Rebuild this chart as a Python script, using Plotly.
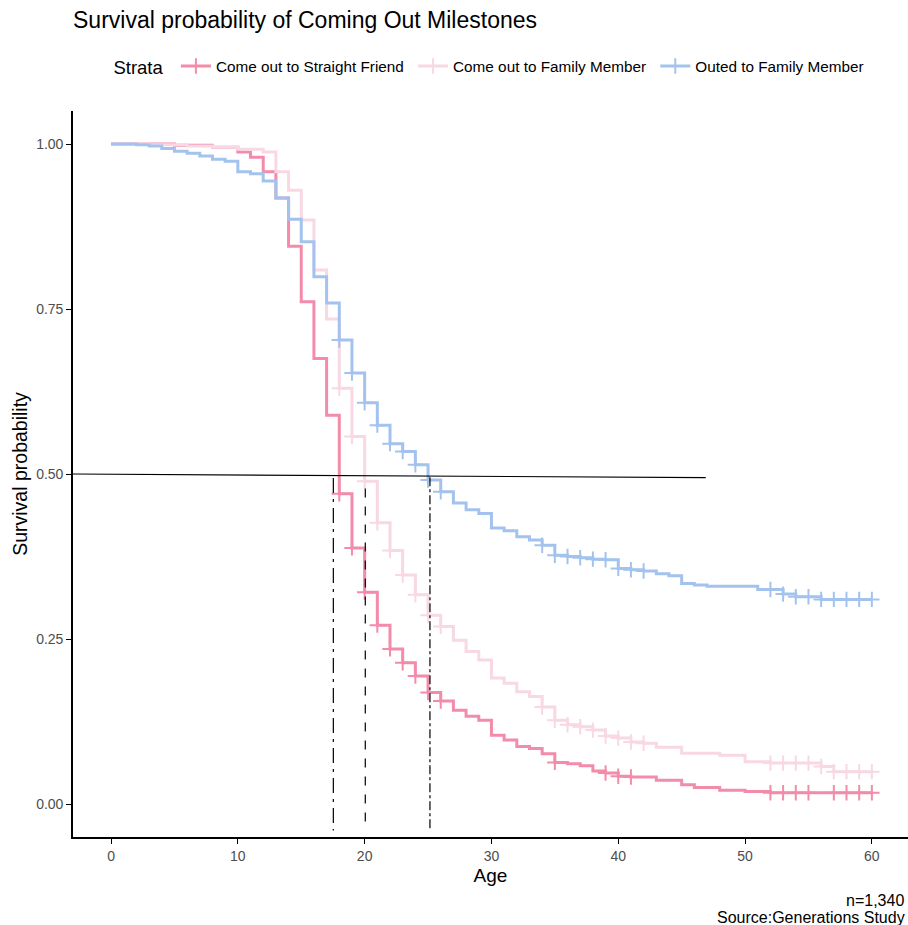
import plotly.graph_objects as go

# ---------------- data ----------------
strata_names = ["Come out to Straight Friend", "Come out to Family Member", "Outed to Family Member"]
strata_colors = ["#F38BAA", "#F8D8E3", "#A3C3EE"]

friend_t = [0, 5, 8, 10, 11, 12, 13, 14, 15, 16, 17, 18, 19, 20, 21, 22, 23, 24, 25, 26, 27, 28, 29, 30,
            31, 32, 33, 34, 35, 36, 37, 38, 39, 40, 41, 43, 45, 46, 48, 50, 52, 60]
friend_s = [1.0, 0.998, 0.995, 0.988, 0.98, 0.958, 0.918, 0.845, 0.761, 0.675, 0.589, 0.470, 0.388, 0.321,
            0.271, 0.235, 0.214, 0.194, 0.169, 0.156, 0.142, 0.133, 0.127, 0.104, 0.097, 0.087, 0.084,
            0.076, 0.063, 0.061, 0.058, 0.050, 0.047, 0.042, 0.041, 0.036, 0.029, 0.025, 0.021, 0.019,
            0.017, 0.017]
friend_censor = [18, 19, 20, 21, 22, 23, 24, 25, 26, 35, 39, 40, 41, 52, 53, 54, 55, 57, 58, 59, 60]

family_t = [0, 3, 6, 8, 10, 12, 13, 14, 15, 16, 17, 18, 19, 20, 21, 22, 23, 24, 25, 26, 27, 28, 29, 30,
            31, 32, 33, 34, 35, 36, 37, 38, 39, 40, 41, 42, 43, 45, 48, 50, 52, 56, 57, 60]
family_s = [1.0, 0.999, 0.997, 0.995, 0.992, 0.988, 0.958, 0.930, 0.885, 0.809, 0.735, 0.630, 0.557, 0.489,
            0.426, 0.384, 0.347, 0.317, 0.286, 0.269, 0.248, 0.231, 0.218, 0.191, 0.183, 0.170, 0.163,
            0.147, 0.127, 0.120, 0.117, 0.112, 0.103, 0.100, 0.094, 0.092, 0.086, 0.077, 0.074, 0.064,
            0.062, 0.057, 0.049, 0.049]
family_censor = [18, 19, 20, 21, 22, 23, 24, 25, 26, 34, 35, 36, 37, 38, 39, 40, 41, 42,
                 52, 53, 54, 55, 56, 57, 58, 59, 60]

outed_t = [0, 2, 3, 4, 5, 6, 7, 8, 9, 10, 11, 12, 13, 14, 15, 16, 17, 18, 19, 20, 21, 22, 23, 24, 25, 26,
           27, 28, 29, 30, 31, 32, 33, 34, 35, 36, 37, 38, 39, 40, 41, 42, 43, 44, 45, 46, 47, 51, 53, 54,
           56, 60]
outed_s = [1.0, 0.999, 0.997, 0.993, 0.989, 0.986, 0.982, 0.977, 0.974, 0.958, 0.955, 0.944, 0.918, 0.886,
           0.852, 0.799, 0.759, 0.703, 0.653, 0.608, 0.574, 0.546, 0.534, 0.514, 0.491, 0.473, 0.456,
           0.446, 0.440, 0.418, 0.414, 0.405, 0.400, 0.392, 0.377, 0.375, 0.373, 0.371, 0.370, 0.357,
           0.355, 0.353, 0.349, 0.346, 0.334, 0.332, 0.330, 0.325, 0.318, 0.314, 0.310, 0.310]
outed_censor = [18, 19, 20, 21, 22, 23, 24, 25, 26, 34, 35, 36, 37, 38, 39, 40, 41, 42,
                52, 53, 54, 55, 56, 57, 58, 59, 60]

# median survival reference lines (as drawn)
median_h_x = [-3, 46.9]
median_h_y = [0.5, 0.4945]
median_v_x = [17.53, 20.05, 25.15]
median_v_top = [0.494, 0.478, 0.495]
median_v_bottom = -0.04
median_v_dash = ["longdashdot", "dash", "dashdot"]

x_ticks = [0, 10, 20, 30, 40, 50, 60]
y_ticks = [0, 0.25, 0.5, 0.75, 1.0]

curves = [(friend_t, friend_s, friend_censor),
          (family_t, family_s, family_censor),
          (outed_t, outed_s, outed_censor)]


def surv_at(ts, ss, t):
    val = ss[0]
    for ti, si in zip(ts, ss):
        if ti <= t:
            val = si
    return val


fig = go.Figure()

for i, (name, col, (ts, ss, cens)) in enumerate(zip(strata_names, strata_colors, curves)):
    fig.add_trace(go.Scatter(x=ts, y=ss, mode="lines", line=dict(color=col, width=3, shape="hv"),
                             showlegend=False, hoverinfo="skip"))
    fig.add_trace(go.Scatter(x=cens, y=[surv_at(ts, ss, c) for c in cens], mode="markers",
                             marker=dict(symbol="cross-thin", size=11, color=col,
                                         line=dict(color=col, width=2)),
                             showlegend=False, hoverinfo="skip"))
    label = name + ("\u00a0" if i < len(strata_names) - 1 else "")
    fig.add_trace(go.Scatter(x=[None], y=[None], mode="lines+markers", name=label,
                             line=dict(color=col, width=3),
                             marker=dict(symbol="cross-thin", size=11, color=col,
                                         line=dict(color=col, width=2))))

fig.add_shape(type="line", xref="x", yref="y", x0=median_h_x[0], x1=median_h_x[1],
              y0=median_h_y[0], y1=median_h_y[1], line=dict(color="black", width=1.2))
for vx, vt, vd in zip(median_v_x, median_v_top, median_v_dash):
    fig.add_shape(type="line", xref="x", yref="y", x0=vx, x1=vx, y0=vt, y1=median_v_bottom,
                  line=dict(color="black", width=1.2, dash=vd))

fig.update_layout(
    width=908, height=925,
    margin=dict(l=73, r=0, t=111, b=88),
    plot_bgcolor="white", paper_bgcolor="white",
    font=dict(family="Liberation Sans, Arial, sans-serif", color="black"),
    title=dict(text="Survival probability of Coming Out Milestones", x=73 / 908, xanchor="left",
               y=1 - 20 / 925, yanchor="middle", font=dict(size=23, color="black")),
    legend=dict(orientation="h", x=0.046, xanchor="left", y=1 + (111 - 67) / 726, yanchor="middle",
                title=dict(text="Strata\u00a0", font=dict(size=18.5, color="black")),
                font=dict(size=15.3, color="black"), itemwidth=30, tracegroupgap=0),
    showlegend=True,
)

fig.update_xaxes(range=[-3, 62.85], tickvals=x_ticks, ticks="outside", ticklen=5, tickwidth=1.2,
                 tickcolor="black", showline=True, linecolor="black", linewidth=1.6, showgrid=False,
                 zeroline=False, tickfont=dict(size=14, color="#4D4D4D"),
                 title=dict(text="Age", font=dict(size=19, color="black"), standoff=6))
fig.update_yaxes(range=[-0.05, 1.05], tickvals=y_ticks, tickformat=".2f", ticks="outside", ticklen=5,
                 tickwidth=1.2, tickcolor="black", showline=True, linecolor="black", linewidth=1.6,
                 showgrid=False, zeroline=False, tickfont=dict(size=14, color="#4D4D4D"),
                 title=dict(text="Survival probability", font=dict(size=19.5, color="black"), standoff=3))

fig.add_annotation(text="n=1,340", xref="paper", yref="paper", x=(906 - 73) / 835, xanchor="right",
                   y=(837 - 900) / 726, yanchor="middle", showarrow=False, font=dict(size=16, color="black"))
fig.add_annotation(text="Source:Generations Study", xref="paper", yref="paper", x=(907 - 73) / 835,
                   xanchor="right", y=(837 - 917) / 726, yanchor="middle", showarrow=False,
                   font=dict(size=16, color="black"))

fig.write_html("out.html")
